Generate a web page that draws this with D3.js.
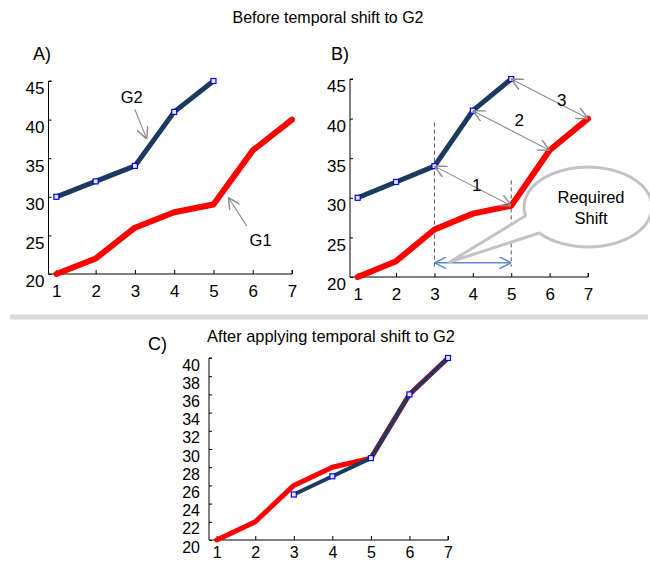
<!DOCTYPE html>
<html>
<head>
<meta charset="utf-8">
<script src="https://cdn.jsdelivr.net/npm/d3@7"></script>
<style>
  body { margin: 0; background: #fff; }
  svg { display: block; font-family: "Liberation Sans", Arial, sans-serif; }
</style>
</head>
<body>
<svg id="chart" width="650" height="563"></svg>
<script>
// Series: G1 reference curve and G2 before / after the temporal shift
const timeSteps = [1, 2, 3, 4, 5, 6, 7];
const g1Values = [20, 22, 26, 28, 29, 36, 40];
const g2Steps = [1, 2, 3, 4, 5];
const g2Values = [30, 32, 34, 41, 45];
const g2ShiftedSteps = [3, 4, 5, 6, 7];
const g2ShiftedValues = [25, 27, 29, 36, 40];

// Axis ticks
const xTicks = [1, 2, 3, 4, 5, 6, 7];
const yTicksTop = [20, 25, 30, 35, 40, 45];
const yTicksBottom = [20, 22, 24, 26, 28, 30, 32, 34, 36, 38, 40];

// Matching pairs drawn in panel B (G2 step -> G1 step)
const pairLabels = ["1", "2", "3"];
const pairFrom = [3, 4, 5];
const pairTo = [5, 6, 7];
const pairLabelOffset = [[4, 5], [8, -4], [12, 7]];

const RED = "#ff0000";
const NAVY = "#1b3a5e";
const GREY = "#8c8c8c";

const svg = d3.select("#chart");

const defs = svg.append("defs");
function openHead(id, color, size) {
  defs.append("marker")
    .attr("id", id).attr("viewBox", "0 0 10 10")
    .attr("refX", 10).attr("refY", 5)
    .attr("markerWidth", size).attr("markerHeight", size)
    .attr("markerUnits", "userSpaceOnUse")
    .attr("orient", "auto-start-reverse")
    .append("path").attr("d", "M0,0 L10,5 L0,10")
    .attr("fill", "none").attr("stroke", color).attr("stroke-width", 1.2);
}
openHead("headGrey", GREY, 12);
openHead("headBlue", "#5b8bcf", 12);

// Titles and separator
svg.append("text").attr("x", 328).attr("y", 23).attr("text-anchor", "middle")
  .attr("font-size", 17).attr("textLength", 191).attr("lengthAdjust", "spacingAndGlyphs")
  .text("Before temporal shift to G2");
svg.append("line").attr("x1", 10).attr("x2", 648).attr("y1", 317).attr("y2", 317)
  .attr("stroke", "#d9d9d9").attr("stroke-width", 5);
svg.append("text").attr("x", 331).attr("y", 342).attr("text-anchor", "middle")
  .attr("font-size", 17).attr("textLength", 248).attr("lengthAdjust", "spacingAndGlyphs")
  .text("After applying temporal shift to G2");

function panel(opts) {
  const g = svg.append("g");
  const x = d3.scaleLinear().domain([0.8, 7]).range([opts.left, opts.right]);
  const y = d3.scaleLinear().domain(opts.yDomain).range([opts.bottom, opts.top]);
  const fs = opts.fontSize;

  g.append("g").attr("transform", `translate(0,${opts.bottom})`)
    .call(d3.axisBottom(x).tickValues(xTicks).tickFormat(d3.format("d"))
      .tickSizeInner(-4).tickSizeOuter(0).tickPadding(opts.xPad))
    .call(a => a.select(".domain").attr("d", `M${opts.left},0H${x(7)}V-4`))
    .call(a => a.selectAll("text").attr("font-size", fs).attr("fill", "#000"));
  g.append("g").attr("transform", `translate(${opts.left},0)`)
    .call(d3.axisLeft(y).tickValues(opts.yTicks).tickFormat(d3.format("d"))
      .tickSizeInner(-3).tickSizeOuter(0).tickPadding(opts.yPad))
    .call(a => a.select(".domain").attr("d", `M3,${y(opts.yDomain[1])}H0V${opts.bottom}`))
    .call(a => a.selectAll("text").attr("font-size", fs).attr("fill", "#000").attr("dy", "0.76em"));
  g.selectAll(".tick line").attr("stroke", "#000");

  g.append("text").attr("x", opts.labelX).attr("y", opts.labelY)
    .attr("font-size", 18).text(opts.label);
  return { g, x, y };
}

function drawLine(p, xs, ys, color, width) {
  const line = d3.line().x(d => p.x(d[0])).y(d => p.y(d[1]));
  p.g.append("path").datum(d3.zip(xs, ys)).attr("d", line)
    .attr("fill", "none").attr("stroke", color).attr("stroke-width", width)
    .attr("stroke-linejoin", "round").attr("stroke-linecap", "round");
}
function drawMarkers(p, xs, ys) {
  p.g.selectAll(null).data(d3.zip(xs, ys)).join("rect")
    .attr("x", d => p.x(d[0]) - 2.5).attr("y", d => p.y(d[1]) - 2.5)
    .attr("width", 5).attr("height", 5)
    .attr("fill", "#e8ecf8").attr("stroke", "#0000ff").attr("stroke-width", 1.2);
}
function arrow(p, x1, y1, x2, y2, both) {
  const l = p.g.append("line")
    .attr("x1", p.x(x1)).attr("y1", p.y(y1)).attr("x2", p.x(x2)).attr("y2", p.y(y2))
    .attr("stroke", GREY).attr("stroke-width", 1.1).attr("marker-end", "url(#headGrey)");
  if (both) l.attr("marker-start", "url(#headGrey)");
}
function note(p, xv, yv, txt) {
  p.g.append("text").attr("x", p.x(xv)).attr("y", p.y(yv)).attr("text-anchor", "middle")
    .attr("font-size", 17).attr("textLength", 22).attr("lengthAdjust", "spacingAndGlyphs").text(txt);
}

// Panel A
const A = panel({ left: 48.5, right: 292, top: 81, bottom: 274, yDomain: [20, 45], yTicks: yTicksTop,
  fontSize: 17, xPad: 11, yPad: 4, label: "A)", labelX: 33, labelY: 60 });
drawLine(A, timeSteps, g1Values, RED, 6);
drawLine(A, g2Steps, g2Values, NAVY, 5);
drawMarkers(A, g2Steps, g2Values);
note(A, 2.92, 42.2, "G2");
arrow(A, 3.0, 41.3, 3.3, 37.5, false);
note(A, 6.2, 23.6, "G1");
arrow(A, 5.85, 26.2, 5.38, 29.9, false);

// Panel B
const B = panel({ left: 350, right: 588, top: 79, bottom: 277, yDomain: [20, 45], yTicks: yTicksTop,
  fontSize: 17, xPad: 11, yPad: 4, label: "B)", labelX: 331, labelY: 60 });
// guide lines marking the shift
B.g.append("line").attr("x1", B.x(3)).attr("x2", B.x(3)).attr("y1", B.y(39.5)).attr("y2", B.y(21.3))
  .attr("stroke", "#555").attr("stroke-dasharray", "4,3").attr("stroke-width", 1);
B.g.append("line").attr("x1", B.x(5)).attr("x2", B.x(5)).attr("y1", B.y(32.2)).attr("y2", B.y(21.3))
  .attr("stroke", "#555").attr("stroke-dasharray", "4,3").attr("stroke-width", 1);
drawLine(B, timeSteps, g1Values, RED, 6);
drawLine(B, g2Steps, g2Values, NAVY, 5);
drawMarkers(B, g2Steps, g2Values);
pairFrom.forEach((f, i) => {
  const t = pairTo[i];
  const y1 = g2Values[g2Steps.indexOf(f)], y2 = g1Values[timeSteps.indexOf(t)];
  arrow(B, f, y1, t, y2, true);
  B.g.append("text")
    .attr("x", (B.x(f) + B.x(t)) / 2 + pairLabelOffset[i][0])
    .attr("y", (B.y(y1) + B.y(y2)) / 2 + pairLabelOffset[i][1])
    .attr("text-anchor", "middle").attr("font-size", 17).text(pairLabels[i]);
});
// horizontal shift arrow
B.g.append("line").attr("x1", B.x(3)).attr("x2", B.x(5)).attr("y1", B.y(21.8)).attr("y2", B.y(21.8))
  .attr("stroke", "#5b8bcf").attr("stroke-width", 1.3)
  .attr("marker-start", "url(#headBlue)").attr("marker-end", "url(#headBlue)");
// speech bubble
const cx = 588, cy = 207, rx = 64, ry = 40;
const a1 = Math.PI * 0.93, a2 = Math.PI * 0.775;
const p1 = [cx + rx * Math.cos(a1), cy + ry * Math.sin(a1)];
const p2 = [cx + rx * Math.cos(a2), cy + ry * Math.sin(a2)];
const tip = [B.x(3.4), B.y(21.9)];
B.g.append("path")
  .attr("d", `M${p1[0]},${p1[1]} A${rx},${ry} 0 1 1 ${p2[0]},${p2[1]} L${tip[0]},${tip[1]} Z`)
  .attr("fill", "#fff").attr("stroke", "#c3c3c3").attr("stroke-width", 3).attr("stroke-linejoin", "round");
B.g.append("text").attr("x", 591).attr("y", 203).attr("text-anchor", "middle")
  .attr("font-size", 17).attr("textLength", 67).attr("lengthAdjust", "spacingAndGlyphs").text("Required");
B.g.append("text").attr("x", 591).attr("y", 224).attr("text-anchor", "middle")
  .attr("font-size", 17).attr("textLength", 33).attr("lengthAdjust", "spacingAndGlyphs").text("Shift");

// Panel C
const C = panel({ left: 209, right: 448, top: 358, bottom: 540, yDomain: [20, 40], yTicks: yTicksBottom,
  fontSize: 16, xPad: 7, yPad: 9, label: "C)", labelX: 148, labelY: 350 });
drawLine(C, timeSteps, g1Values, RED, 5);
drawLine(C, g2ShiftedSteps, g2ShiftedValues, NAVY, 4);
drawMarkers(C, g2ShiftedSteps, g2ShiftedValues);
</script>
</body>
</html>
